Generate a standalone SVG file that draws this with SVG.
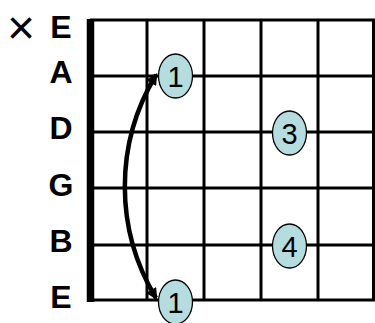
<svg xmlns="http://www.w3.org/2000/svg" width="375" height="323" viewBox="0 0 375 323">
<style>
.grid line{stroke:#000;stroke-width:3}
.lbl{font-family:"Liberation Sans",Arial,sans-serif;font-weight:bold;font-size:32px;fill:#000;text-anchor:middle}
.dot ellipse{fill:#b5dde0;stroke:#000;stroke-width:1.3}
.dot text{font-family:"Liberation Sans",Arial,sans-serif;font-size:29px;fill:#000;text-anchor:middle}
</style>
<defs>
<marker id="ah" viewBox="0 0 10 10" refX="8" refY="5" markerWidth="3" markerHeight="2.6" orient="auto-start-reverse" markerUnits="strokeWidth">
<path d="M0,0 L10,5 L0,10 Z" fill="#000"/>
</marker>
</defs>
<rect width="375" height="323" fill="#fff"/>
<g id="grid" class="grid">
<line x1="90" y1="20" x2="375" y2="20"/>
<line x1="90" y1="76" x2="375" y2="76"/>
<line x1="90" y1="132" x2="375" y2="132"/>
<line x1="90" y1="188" x2="375" y2="188"/>
<line x1="90" y1="245" x2="375" y2="245"/>
<line x1="90" y1="300" x2="375" y2="300"/>
<line x1="147" y1="19" x2="147" y2="301"/>
<line x1="204" y1="19" x2="204" y2="301"/>
<line x1="261" y1="19" x2="261" y2="301"/>
<line x1="318" y1="19" x2="318" y2="301"/>
<line x1="373.5" y1="19" x2="373.5" y2="301"/>
<line x1="90.5" y1="19" x2="90.5" y2="302" style="stroke-width:7.5"/>
</g>
<g id="labels">
<text id="mute" x="21" y="44" style="font-family:'Liberation Sans',Arial,sans-serif;font-size:48px;text-anchor:middle">×</text>
<text class="lbl" x="61" y="38">E</text>
<text class="lbl" x="61" y="83">A</text>
<text class="lbl" x="61" y="139">D</text>
<text class="lbl" x="61" y="196">G</text>
<text class="lbl" x="61" y="252">B</text>
<text class="lbl" x="61" y="308">E</text>
</g>
<g id="connectors">
<path d="M156,75 A 215 215 0 0 0 156,298" fill="none" stroke="#000" stroke-width="4.5" marker-start="url(#ah)" marker-end="url(#ah)"/>
</g>
<g id="finger-1-top" class="dot"><ellipse cx="175.5" cy="76" rx="17" ry="22"/><text x="175.5" y="86.5">1</text></g>
<g id="finger-3" class="dot"><ellipse cx="289.5" cy="133" rx="17" ry="22"/><text x="289.5" y="143.5">3</text></g>
<g id="finger-4" class="dot"><ellipse cx="289.5" cy="246" rx="17" ry="22"/><text x="289.5" y="256.5">4</text></g>
<g id="finger-1-bottom" class="dot"><ellipse cx="175.5" cy="302" rx="17" ry="22"/><text x="175.5" y="312.5">1</text></g>
</svg>
